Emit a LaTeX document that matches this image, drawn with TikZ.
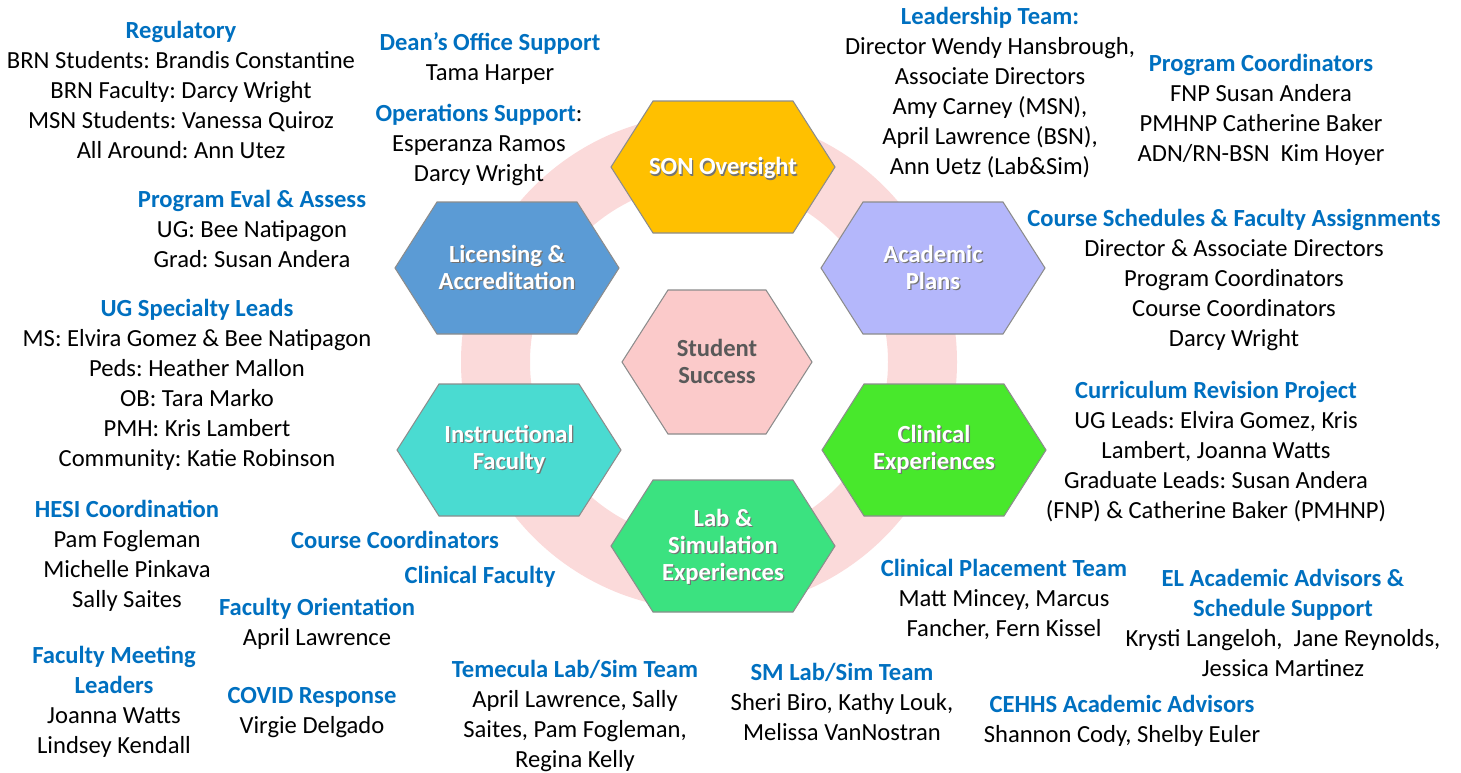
\documentclass[tikz,border=0pt]{standalone}
\usepackage{fontspec}
\setmainfont{Carlito}
\usepackage{tikz}
\usepackage{xcolor}
\frenchspacing
\definecolor{headBlue}{HTML}{0070C0}
\definecolor{ringPink}{HTML}{FBDADA}
\definecolor{hexGold}{HTML}{FFC000}
\definecolor{hexBlue}{HTML}{5B9BD5}
\definecolor{hexLilac}{HTML}{B4B7FB}
\definecolor{hexRose}{HTML}{FBCACA}
\definecolor{hexTeal}{HTML}{4ADBD1}
\definecolor{hexLime}{HTML}{48E82C}
\definecolor{hexMint}{HTML}{3BE280}
\definecolor{hexEdge}{HTML}{8C8C8C}
\definecolor{textGray}{HTML}{595959}

\newcommand{\head}[1]{\textcolor{headBlue}{\textbf{#1}}}
\newcommand{\shadowed}[1]{\makebox[0pt][l]{\raisebox{-0.7pt}{\hspace{0.7pt}\textcolor{black!55}{#1}}}#1}

\begin{document}
\begin{tikzpicture}[
    x=0.02cm, y=-0.02cm,
    font=\fontsize{14}{17.07}\selectfont,
    team/.style={
        align=center,
        inner sep=0pt,
        anchor=base
    },
    hexagon/.style={
        draw=hexEdge,
        line width=0.6pt
    },
    hexlabel/.style={
        align=center,
        inner sep=0pt,
        text=white,
        font=\fontsize{14}{15.4}\selectfont\bfseries
    },
    ring/.style={
        fill=ringPink,
        even odd rule
    }
]
\useasboundingbox (0,0) rectangle (1461,772);

% -------------------- Ring behind the hexagons --------------------
\fill[ring] (709,362) circle (248) (709,362) circle (179);

% -------------------- Hexagons ------------------------------------
\draw[hexagon, fill=hexGold, shift={(723,167)}]
  (-112,0) -- (-70,-66) -- (70,-66) -- (112,0) -- (70,66) -- (-70,66) -- cycle;
\node[hexlabel] (son) at (723,169) {\shadowed{SON Oversight}};

\draw[hexagon, fill=hexBlue, shift={(507,268)}]
  (-112,0) -- (-70,-66) -- (70,-66) -- (112,0) -- (70,66) -- (-70,66) -- cycle;
\node[hexlabel] (licensing) at (507,268) {\shadowed{Licensing \&}\\ \shadowed{Accreditation}};

\draw[hexagon, fill=hexLilac, shift={(933,268)}]
  (-112,0) -- (-70,-66) -- (70,-66) -- (112,0) -- (70,66) -- (-70,66) -- cycle;
\node[hexlabel] (academic) at (933,268) {\shadowed{Academic}\\ \shadowed{Plans}};

\draw[hexagon, fill=hexRose, shift={(717,362)}]
  (-95,0) -- (-49,-72) -- (49,-72) -- (95,0) -- (49,72) -- (-49,72) -- cycle;
\node[hexlabel, text=textGray] (student) at (717,361) {Student\\ Success};

\draw[hexagon, fill=hexTeal, shift={(509,450)}]
  (-112,0) -- (-70,-66) -- (70,-66) -- (112,0) -- (70,66) -- (-70,66) -- cycle;
\node[hexlabel] (instructional) at (509,450) {\shadowed{Instructional}\\ \shadowed{Faculty}};

\draw[hexagon, fill=hexLime, shift={(934,450)}]
  (-112,0) -- (-70,-66) -- (70,-66) -- (112,0) -- (70,66) -- (-70,66) -- cycle;
\node[hexlabel] (clinical) at (934,450) {\shadowed{Clinical}\\ \shadowed{Experiences}};

\draw[hexagon, fill=hexMint, shift={(723,546)}]
  (-112,0) -- (-70,-66) -- (70,-66) -- (112,0) -- (70,66) -- (-70,66) -- cycle;
\node[hexlabel] (labsim) at (723,547) {\shadowed{Lab \&}\\ \shadowed{Simulation}\\ \shadowed{Experiences}};

% -------------------- Left side teams -----------------------------
% (anchor=base sits on the last line of each block)
\node[team] (regulatory) at (181,158) {\head{Regulatory}\\ BRN Students: Brandis Constantine\\ BRN Faculty: Darcy Wright\\ MSN Students: Vanessa Quiroz\\ All Around: Ann Utez};
\node[team] (deans) at (490,80) {\head{Dean’s Office Support}\\ Tama Harper};
\node[team] (operations) at (479,181) {\head{Operations Support}:\\ Esperanza Ramos\\ Darcy Wright};
\node[team] (progeval) at (252,267) {\head{Program Eval \& Assess}\\ UG: Bee Natipagon\\ Grad: Susan Andera};
\node[team] (ugleads) at (197,466) {\head{UG Specialty Leads}\\ MS: Elvira Gomez \& Bee Natipagon\\ Peds: Heather Mallon\\ OB: Tara Marko\\ PMH: Kris Lambert\\ Community: Katie Robinson};
\node[team] (hesi) at (127,607) {\head{HESI Coordination}\\ Pam Fogleman\\ Michelle Pinkava\\ Sally Saites};
\node[team] (coursecoord) at (395,548) {\head{Course Coordinators}};
\node[team] (clinfaculty) at (480,583) {\head{Clinical Faculty}};
\node[team] (orientation) at (317,645) {\head{Faculty Orientation}\\ April Lawrence};
\node[team] (meeting) at (114,753) {\head{Faculty Meeting}\\ \head{Leaders}\\ Joanna Watts\\ Lindsey Kendall};
\node[team] (covid) at (312,733) {\head{COVID Response}\\ Virgie Delgado};

% -------------------- Bottom teams --------------------------------
\node[team] (temecula) at (575,767) {\head{Temecula Lab/Sim Team}\\ April Lawrence, Sally\\ Saites, Pam Fogleman,\\ Regina Kelly};
\node[team] (smlab) at (842,740) {\head{SM Lab/Sim Team}\\ Sheri Biro, Kathy Louk,\\ Melissa VanNostran};
\node[team] (cehhs) at (1122,742) {\head{CEHHS Academic Advisors}\\ Shannon Cody, Shelby Euler};
\node[team] (placement) at (1004,636) {\head{Clinical Placement Team}\\ Matt Mincey, Marcus\\ Fancher, Fern Kissel};
\node[team] (eladvisors) at (1283,676) {\head{EL Academic Advisors \&}\\ \head{Schedule Support}\\ Krysti Langeloh,\ \ Jane Reynolds,\\ Jessica Martinez};

% -------------------- Right side teams ----------------------------
\node[team] (leadership) at (990,174) {\head{Leadership Team:}\\ Director Wendy Hansbrough,\\ Associate Directors\\ Amy Carney (MSN),\\ April Lawrence (BSN),\\ Ann Uetz (Lab\&Sim)};
\node[team] (progcoord) at (1261,161) {\head{Program Coordinators}\\ FNP Susan Andera\\ PMHNP Catherine Baker\\ ADN/RN-BSN\ \ Kim Hoyer};
\node[team] (schedules) at (1234,346) {\head{Course Schedules \& Faculty Assignments}\\ Director \& Associate Directors\\ Program Coordinators\\ Course Coordinators\\ Darcy Wright};
\node[team] (curriculum) at (1216,518) {\head{Curriculum Revision Project}\\ UG Leads: Elvira Gomez, Kris\\ Lambert, Joanna Watts\\ Graduate Leads: Susan Andera\\ (FNP) \& Catherine Baker (PMHNP)};

\end{tikzpicture}
\end{document}
